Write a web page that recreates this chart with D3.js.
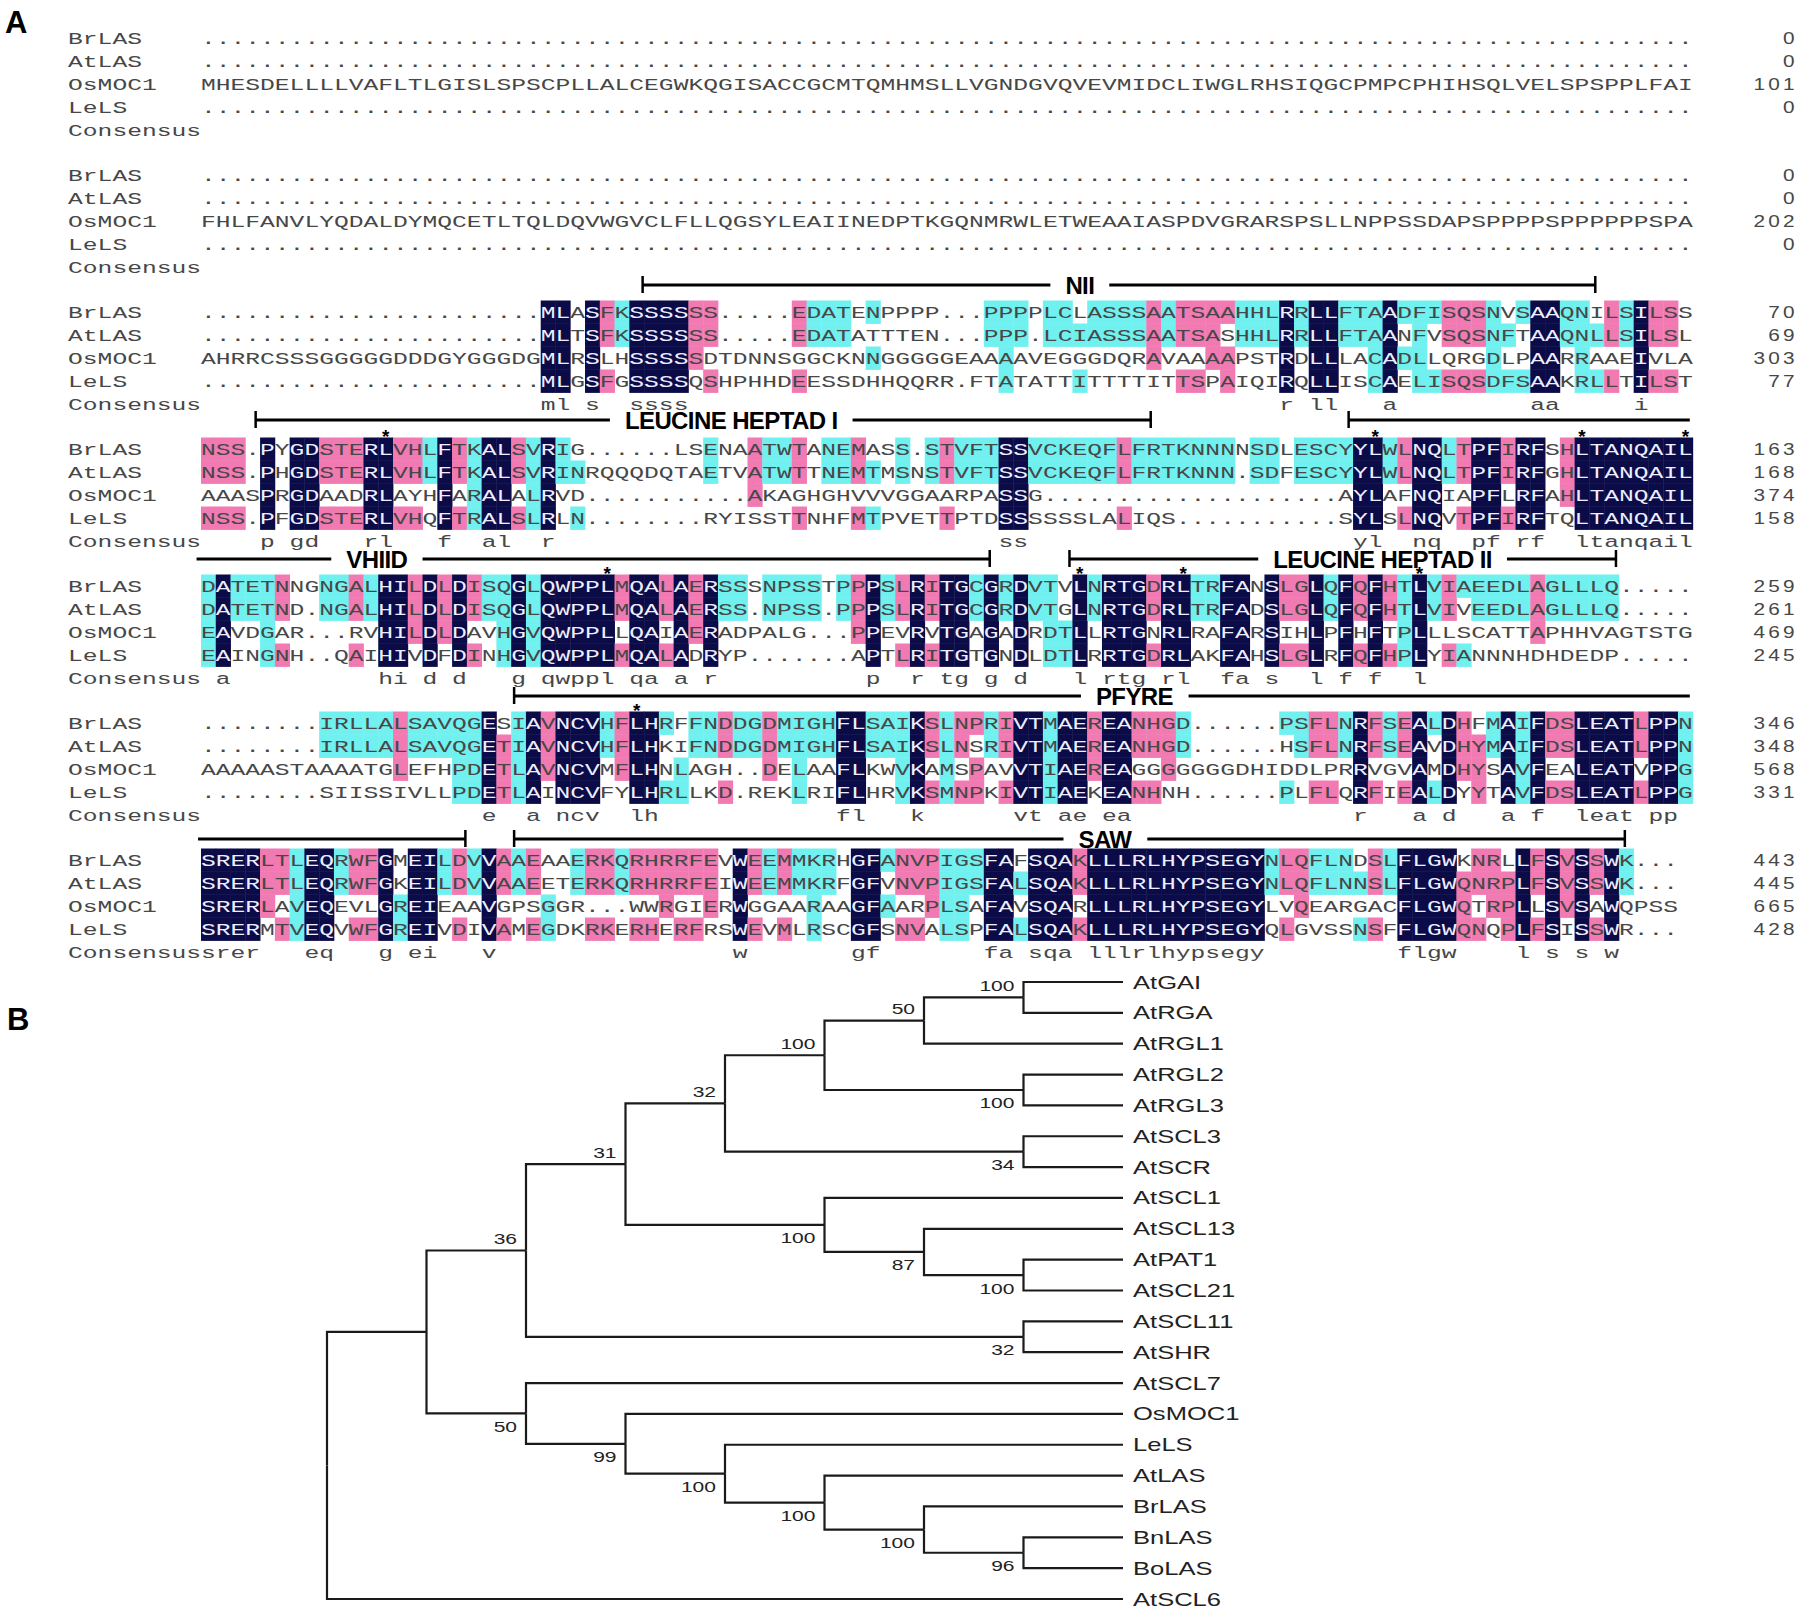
<!DOCTYPE html>
<html>
<head>
<meta charset="utf-8">
<script src="https://cdn.jsdelivr.net/npm/d3@7"></script>
<style>
  body { margin: 0; background: #fff; }
  svg { display: block; }
</style>
</head>
<body>
<svg id="fig" width="1800" height="1609"></svg>
<script>
// ---------- data ----------
var dots = function(n) { return ".".repeat(n); };

var species = ["BrLAS", "AtLAS", "OsMOC1", "LeLS"];
var consLabel = "Consensus";

// one string per alignment block, "." = gap
var BrLAS = [
  dots(101),
  dots(101),
  dots(23) + "MLASFKSSSSSS" + dots(5) + "EDATENPPPP" + dots(3) + "PPPPLCLASSSAATSAAHHLRRLLFTAADFISQSNVSAAQNILSILSS",
  "NSS.PYGDSTERLVHLFTKALSVRIG" + dots(6) + "LSENAATWTANEMASS.STVFTSSVCKEQFLFRTKNNNNSDLESCYYLWLNQLTPFIRFSHLTANQAIL",
  "DATETNNGNGALHILDLDISQGLQWPPLMQALAERSSSNPSSTPPPSLRITGCGRDVTVLNRTGDRLTRFANSLGLQFQFHTLVIAEEDLAGLLLQ" + dots(5),
  dots(8) + "IRLLALSAVQGESIAVNCVHFLHRFFNDDGDMIGHFLSAIKSLNPRIVTMAEREANHGD" + dots(6) + "PSFLNRFSEALDHFMAIFDSLEATLPPN",
  "SRERLTLEQRWFGMEILDVVAAEAAERKQRHRRFEVWEEMMKRHGFANVPIGSFAFSQAKLLLRLHYPSEGYNLQFLNDSLFLGWKNRLLFSVSSWK" + dots(3)
];
var AtLAS = [
  dots(101),
  dots(101),
  dots(23) + "MLTSFKSSSSSS" + dots(5) + "EDATATTTEN" + dots(3) + "PPP.LCIASSSAATSASHHLRRLLFTAANFVSQSNFTAAQNLLSILSL",
  "NSS.PHGDSTERLVHLFTKALSVRINRQQQDQTAETVATWTTNEMTMSNSTVFTSSVCKEQFLFRTKNNN.SDFESCYYLWLNQLTPFIRFGHLTANQAIL",
  "DATETND.NGALHILDLDISQGLQWPPLMQALAERSS.NPSS.PPPSLRITGCGRDVTGLNRTGDRLTRFADSLGLQFQFHTLVIVEEDLAGLLLQ" + dots(5),
  dots(8) + "IRLLALSAVQGETIAVNCVHFLHKIFNDDGDMIGHFLSAIKSLNSRIVTMAEREANHGD" + dots(6) + "HSFLNRFSEAVDHYMAIFDSLEATLPPN",
  "SRERLTLEQRWFGKEILDVVAAEETERKQRHRRFEIWEEMMKRFGFVNVPIGSFALSQAKLLLRLHYPSEGYNLQFLNNSLFLGWQNRPLFSVSSWK" + dots(3)
];
var OsMOC1 = [
  "MHESDELLLLVAFLTLGISLSPSCPLLALCEGWKQGISACCGCMTQMHMSLLVGNDGVQVEVMIDCLIWGLRHSIQGCPMPCPHIHSQLVELSPSPPLFAI",
  "FHLFANVLYQDALDYMQCETLTQLDQVWGVCLFLLQGSYLEAIINEDPTKGQNMRWLETWEAAIASPDVGRARSPSLLNPPSSDAPSPPPPSPPPPPPSPA",
  "AHRRCSSSGGGGGDDDGYGGGDGMLRSLHSSSSSDTDNNSGGCKNNGGGGGEAAAAVEGGGDQRAVAAAAPSTRDLLLACADLLQRGDLPAARRAAEIVLA",
  "AAASPRGDAADRLAYHFARALALRVD" + dots(11) + "AKAGHGHVVVGGAARPASSG" + dots(20) + "AYLAFNQIAPFLRFAHLTANQAIL",
  "EAVDGAR...RVHILDLDAVHGVQWPPLLQAIAERADPALG...PPEVRVTGAGADRDTLLRTGNRLRAFARSIHLPFHFTPLLLSCATTAPHHVAGTSTG",
  "AAAAASTAAAATGLEFHPDETLAVNCVMFLHNLAGH..DELAAFLKWVKAMSPAVVTIAEREAGGGGGGGDHIDDLPRRVGVAMDHYSAVFEALEATVPPG",
  "SRERLAVEQEVLGREIEAAVGPSGGR...WWRGIERWGGAARAAGFAARPLSAFAVSQARLLLRLHYPSEGYLVQEARGACFLGWQTRPLLSVSAWQPSS"
];
var LeLS = [
  dots(101),
  dots(101),
  dots(23) + "MLGSFGSSSSQSHPHHDEESSDHHQQRR." + "FTATATTITTTTITTSPAIQIRQLLISCAELISQSDFSAAKRLLTILST",
  "NSS.PFGDSTERLVHQFTRALSLRLN" + dots(8) + "RYISSTTNHFMTPVETTPTDSSSSSSLALIQS" + dots(11) + "SYLSLNQVTPFIRFTQLTANQAIL",
  "EAINGNH..QAIHIVDFDINHGVQWPPLMQALADRYP" + dots(7) + "APTLRITGTGNDLDTLRRTGDRLAKFAHSLGLRFQFHPLYIANNNHDHDEDP" + dots(5),
  dots(8) + "SIISSIVLLPDETLAINCVFYLHRLLKD.REKLRIFLHRVKSMNPKIVTIAEKEANHNH" + dots(6) + "PLFLQRFIEALDYYTAVFDSLEATLPPG",
  "SRERMTVEQVWFGREIVDIVAMEGDKRKERHERFRSWEVMLRSCGFSNVALSPFALSQAKLLLRLHYPSEGYQLGVSSNSFFLGWQNQPLFSISSWR" + dots(3)
];

// residue numbers at the end of each line
var rowEnds = [
  [0, 0, 101, 0],
  [0, 0, 202, 0],
  [70, 69, 303, 77],
  [163, 168, 374, 158],
  [259, 261, 469, 245],
  [346, 348, 568, 331],
  [443, 445, 665, 428]
];

// domain bars: block, from column, to column, label, tick left, tick right, label column
var motifs = [
  [2, 29.9, 94.4, "NII", true, true, 59.5],
  [3, 3.7, 64.3, "LEUCINE HEPTAD I", true, true, 35.9],
  [3, 77.7, 100.8, "", true, false, 0],
  [4, -0.3, 53.4, "VHIID", false, true, 11.9],
  [4, 58.8, 95.8, "LEUCINE HEPTAD II", true, true, 80],
  [5, 21.2, 100.8, "PFYRE", true, false, 63.2],
  [6, -0.2, 17.9, "", false, true, 0],
  [6, 21.2, 96.4, "SAW", true, true, 61.2]
];

// heptad leucines marked with *: block, column
var stars = [[3, 13], [3, 80], [3, 94], [3, 101], [4, 28], [4, 60], [4, 67], [4, 83], [5, 30]];

// neighbour-joining tree with bootstrap values
var newick = "((((((((AtGAI,AtRGA)100,AtRGL1)50,(AtRGL2,AtRGL3)100)100,(AtSCL3,AtSCR)34)32," +
  "(AtSCL1,(AtSCL13,(AtPAT1,AtSCL21)100)87)100)31,(AtSCL11,AtSHR)32)36," +
  "(AtSCL7,(OsMOC1,(LeLS,(AtLAS,(BrLAS,(BnLAS,BoLAS)96)100)100)100)99)50),AtSCL6);";

// ---------- layout ----------
var svg = d3.select("#fig");
svg.append("rect").attr("width", 1800).attr("height", 1609).attr("fill", "#fff");

var defs = svg.append("defs");
defs.append("filter").attr("id", "soft").append("feGaussianBlur").attr("stdDeviation", 1.4);

var cw = 14.77;
var x = d3.scaleLinear().domain([0, 101]).range([201, 201 + 101 * cw]);
var blockY = d3.scaleLinear().domain([0, 1]).range([38, 175]);
var rowY = d3.scaleLinear().domain([0, 1]).range([0, 23]);
var y = function(b, r) { return blockY(b) + rowY(r); };

var shade = { navy: "#0b0b48", pink: "#f27ab3", cyan: "#70f1f0" };
var seqs = [BrLAS, AtLAS, OsMOC1, LeLS];

function columnClass(col) {
  var counts = d3.rollup(col.filter(function(c) { return c !== "."; }), function(v) { return v.length; }, function(c) { return c; });
  return col.map(function(c) {
    if (c === ".") return null;
    var n = counts.get(c);
    return n === 4 ? "navy" : n === 3 ? "pink" : n === 2 ? "cyan" : null;
  });
}

var cells = [];
d3.range(7).forEach(function(b) {
  var len = d3.max(seqs, function(s) { return s[b].length; });
  d3.range(len).forEach(function(i) {
    var col = seqs.map(function(s) { return s[b][i] || "."; });
    var cls = columnClass(col);
    col.forEach(function(ch, r) { cells.push({ b: b, r: r, i: i, ch: ch, cls: cls[r] }); });
    if (col.every(function(c) { return c !== "." && c === col[0]; }))
      cells.push({ b: b, r: 4, i: i, ch: col[0].toLowerCase(), cls: null });
  });
  // row names
  species.concat([consLabel]).forEach(function(nm, r) {
    nm.split("").forEach(function(ch, j) { cells.push({ b: b, r: r, i: j - 9, ch: ch, cls: null }); });
  });
  // end numbers, right aligned
  rowEnds[b].forEach(function(v, r) {
    var s = String(v);
    s.split("").forEach(function(ch, k) { cells.push({ b: b, r: r, i: 108 - s.length + k, ch: ch, cls: null, num: true }); });
  });
});

var gA = svg.append("g");

gA.selectAll("rect.cell")
  .data(cells.filter(function(d) { return d.cls; }))
  .join("rect")
  .attr("class", "cell")
  .attr("x", function(d) { return x(d.i); })
  .attr("y", function(d) { return y(d.b, d.r) - 11.5; })
  .attr("width", cw + 0.4)
  .attr("height", 23.4)
  .attr("fill", function(d) { return shade[d.cls]; });

gA.selectAll("text.ch")
  .data(cells)
  .join("text")
  .attr("class", "ch")
  .attr("transform", function(d) {
    return "translate(" + x(d.i + 0.5) + "," + (y(d.b, d.r) + 6) + ") scale(" + (d.num ? 1.3 : 1.45) + ",1)";
  })
  .attr("text-anchor", "middle")
  .attr("font-family", function(d) {
    return d.num ? "Liberation Sans, Arial, sans-serif" : "Liberation Mono, DejaVu Sans Mono, monospace";
  })
  .attr("font-size", function(d) { return d.num ? 16 : 17; })
  .attr("fill", function(d) { return d.cls === "navy" ? "#eeeeff" : "#474747"; })
  .text(function(d) { return d.ch; });

// domain bars
var barDy = [0, 0, -27, -29, -27, -27, -21];
motifs.forEach(function(m) {
  var b = m[0], ly = blockY(b) + barDy[b];
  var g = svg.append("g");
  g.append("line")
    .attr("x1", x(m[1])).attr("x2", x(m[2])).attr("y1", ly + 4).attr("y2", ly + 4)
    .attr("stroke", "#c4c4c4").attr("stroke-width", 3).attr("filter", "url(#soft)");
  g.append("line")
    .attr("x1", x(m[1])).attr("x2", x(m[2])).attr("y1", ly).attr("y2", ly)
    .attr("stroke", "#000").attr("stroke-width", 3);
  [[m[4], m[1]], [m[5], m[2]]].forEach(function(t) {
    if (t[0]) g.append("line")
      .attr("x1", x(t[1])).attr("x2", x(t[1])).attr("y1", ly - 9).attr("y2", ly + 8)
      .attr("stroke", "#000").attr("stroke-width", 2.5);
  });
  if (m[3]) {
    var txt = g.append("text")
      .attr("x", x(m[6])).attr("y", ly + 8.5)
      .attr("text-anchor", "middle")
      .attr("font-family", "Liberation Sans, Arial, sans-serif")
      .attr("font-weight", "bold")
      .attr("font-size", 24)
      .attr("letter-spacing", -0.6)
      .text(m[3]);
    var bb = txt.node().getBBox();
    g.insert("rect", "text")
      .attr("x", bb.x - 15).attr("y", ly - 8).attr("width", bb.width + 30).attr("height", 16)
      .attr("fill", "#fff");
  }
});

svg.selectAll("text.star")
  .data(stars)
  .join("text")
  .attr("class", "star")
  .attr("x", function(d) { return x(d[1] - 0.5); })
  .attr("y", function(d) { return blockY(d[0]) - 6; })
  .attr("text-anchor", "middle")
  .attr("font-family", "Liberation Sans, Arial, sans-serif")
  .attr("font-weight", "bold")
  .attr("font-size", 19)
  .text("*");

// panel letters
svg.append("text").attr("x", 5).attr("y", 33)
  .attr("font-family", "Liberation Sans, Arial, sans-serif").attr("font-weight", "bold")
  .attr("font-size", 31).text("A");
svg.append("text").attr("x", 7).attr("y", 1030)
  .attr("font-family", "Liberation Sans, Arial, sans-serif").attr("font-weight", "bold")
  .attr("font-size", 31).text("B");

// ---------- tree ----------
function parseNewick(s) {
  var i = 0;
  function node() {
    var n = {};
    if (s[i] === "(") {
      i++;
      n.children = [node()];
      while (s[i] === ",") { i++; n.children.push(node()); }
      i++;
    }
    var tok = "";
    while (i < s.length && ",();".indexOf(s[i]) < 0) tok += s[i++];
    if (n.children) { if (tok) n.support = tok; } else n.name = tok;
    return n;
  }
  return node();
}

var root = d3.hierarchy(parseNewick(newick));
d3.cluster().size([1, 1]).separation(function() { return 1; })(root);
var leaves = root.leaves();
var ty = d3.scaleLinear().domain(d3.extent(leaves, function(d) { return d.x; })).range([982, 1599]);
var tx = d3.scaleLinear().domain([0, 1]).range([327, 1123]);

var gT = svg.append("g");
gT.selectAll("path.link")
  .data(root.links())
  .join("path")
  .attr("class", "link")
  .attr("fill", "none")
  .attr("stroke", "#1a1a1a")
  .attr("stroke-width", 2.2)
  .attr("d", function(l) {
    return "M" + tx(l.source.y) + "," + ty(l.source.x) + "V" + ty(l.target.x) + "H" + tx(l.target.y);
  });

gT.selectAll("text.leaf")
  .data(leaves)
  .join("text")
  .attr("class", "leaf")
  .attr("transform", function(d) { return "translate(1133," + (ty(d.x) + 6.5) + ") scale(1.42,1)"; })
  .attr("font-family", "Liberation Sans, Arial, sans-serif")
  .attr("font-size", 18)
  .attr("fill", "#222")
  .text(function(d) { return d.data.name; });

gT.selectAll("text.boot")
  .data(root.descendants().filter(function(d) { return d.data.support; }))
  .join("text")
  .attr("class", "boot")
  .attr("transform", function(d) {
    var up = d.x < d.parent.x;
    return "translate(" + (tx(d.y) - 9) + "," + (ty(d.x) + (up ? -6.5 : 18.5)) + ") scale(1.45,1)";
  })
  .attr("text-anchor", "end")
  .attr("font-family", "Liberation Sans, Arial, sans-serif")
  .attr("font-size", 14.5)
  .attr("fill", "#222")
  .text(function(d) { return d.data.support; });
</script>
</body>
</html>
